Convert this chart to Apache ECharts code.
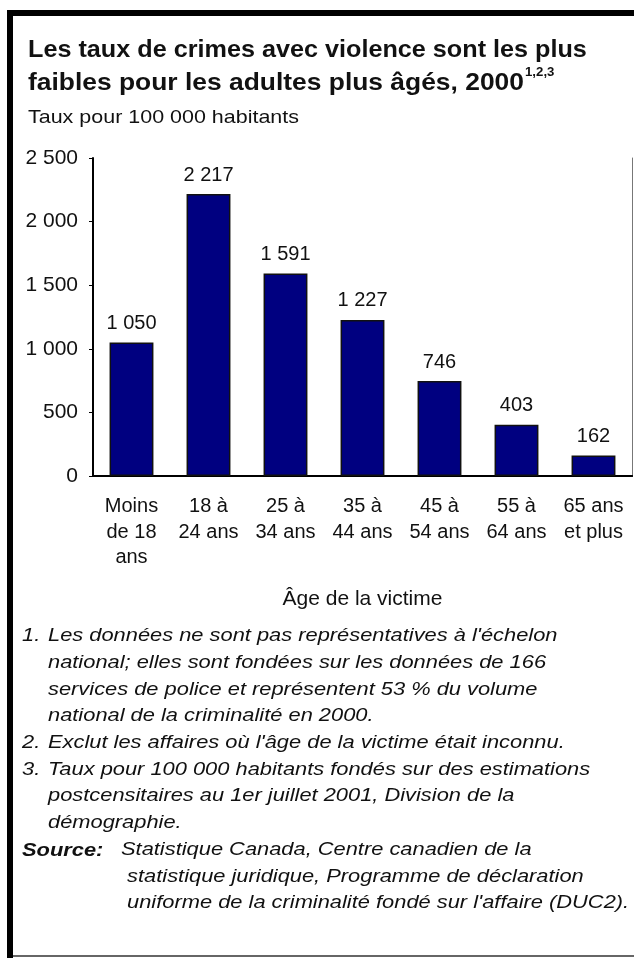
<!DOCTYPE html>
<html><head><meta charset="utf-8">
<script src="https://cdn.jsdelivr.net/npm/echarts@6/dist/echarts.min.js"></script>
<style>html,body{margin:0;padding:0;background:#fff}#c{width:634px;height:958px}</style>
</head><body><div id="c"></div>
<script>
const categories = ['Moins\nde 18\nans', '18 à\n24 ans', '25 à\n34 ans', '35 à\n44 ans', '45 à\n54 ans', '55 à\n64 ans', '65 ans\net plus'];
const rates = [1050, 2217, 1591, 1227, 746, 403, 162];
const yTicks = [0, 500, 1000, 1500, 2000, 2500];
const titleLines = ['Les taux de crimes avec violence sont les plus', 'faibles pour les adultes plus âgés, 2000'];
const titleSup = '1,2,3';
const subtitle = 'Taux pour 100 000 habitants';
const xName = 'Âge de la victime';
const notes = [
  ['1.', "Les données ne sont pas représentatives à l'échelon\nnational; elles sont fondées sur les données de 166\nservices de police et représentent 53 % du volume\nnational de la criminalité en 2000."],
  ['2.', "Exclut les affaires où l'âge de la victime était inconnu."],
  ['3.', "Taux pour 100 000 habitants fondés sur des estimations\npostcensitaires au 1er juillet 2001, Division de la\ndémographie."]
];
const sourceLabel = 'Source:';
const sourceText = "Statistique Canada, Centre canadien de la\n statistique juridique, Programme de déclaration\n uniforme de la criminalité fondé sur l'affaire (DUC2).";

const fmt = v => String(v).replace(/\B(?=(\d{3})+(?!\d))/g, ' ');
const FONT = 'Liberation Sans, Arial, sans-serif';
const INK = '#111';

const chart = echarts.init(document.getElementById('c'), null, {renderer: 'canvas'});

// footnotes
const lh = 26.7;
const SX = 1.15;
const noteGraphics = [];
let y = 636 - lh / 2;
notes.forEach(([n, t]) => {
  const lines = t.split('\n').length;
  noteGraphics.push({type: 'text', x: 22, y: y, scaleX: SX, style: {text: n, font: 'italic 19px ' + FONT, fill: INK, lineHeight: lh, verticalAlign: 'top', align: 'left'}});
  noteGraphics.push({type: 'text', x: 48, y: y, scaleX: SX, style: {text: t, font: 'italic 19px ' + FONT, fill: INK, lineHeight: lh, verticalAlign: 'top', align: 'left'}});
  y += lines * lh;
});
noteGraphics.push({type: 'text', x: 22, y: y + 1, scaleX: SX, style: {text: sourceLabel, font: 'italic bold 19px ' + FONT, fill: INK, lineHeight: lh, verticalAlign: 'top', align: 'left'}});
noteGraphics.push({type: 'text', x: 121, y: y, scaleX: SX, style: {text: sourceText, font: 'italic 19px ' + FONT, fill: INK, lineHeight: lh, verticalAlign: 'top', align: 'left'}});

const titleRich = {
  t: {fontSize: 24, fontWeight: 'bold', fill: INK, lineHeight: 33, fontFamily: FONT},
  s: {fontSize: 12, fontWeight: 'bold', fill: INK, lineHeight: 33, verticalAlign: 'top', padding: [0, 0, 12, 1], fontFamily: FONT}
};

chart.setOption({
  animation: false,
  backgroundColor: '#fff',
  textStyle: {fontFamily: FONT},
  grid: {left: 93, right: 2, top: 158, bottom: 482, containLabel: false},
  xAxis: [{
    type: 'category', data: categories, position: 'bottom',
    axisLine: {show: true, lineStyle: {color: '#000', width: 2}},
    axisTick: {show: false},
    axisLabel: {color: INK, fontSize: 20, lineHeight: 25.5, margin: 18, interval: 0, fontFamily: FONT},
    name: xName, nameLocation: 'middle', nameGap: 113,
    nameTextStyle: {color: INK, fontSize: 21, fontFamily: FONT}
  }, {
    type: 'category', data: categories, position: 'top',
    axisLine: {show: true, lineStyle: {color: '#000', width: 2}},
    axisTick: {show: false}, axisLabel: {show: false}
  }],
  yAxis: [{
    type: 'value', min: 0, max: 2500, interval: 500, position: 'left',
    axisLine: {show: true, lineStyle: {color: '#000', width: 2}},
    axisTick: {show: true, inside: false, length: 4, lineStyle: {color: '#000', width: 1}},
    splitLine: {show: false},
    axisLabel: {color: INK, fontSize: 21, margin: 15, fontFamily: FONT,
      formatter: v => yTicks.includes(v) ? fmt(v) : ''}
  }, {
    type: 'value', min: 0, max: 2500, interval: 500, position: 'right',
    axisLine: {show: true, lineStyle: {color: '#777', width: 1}},
    axisTick: {show: false}, axisLabel: {show: false}, splitLine: {show: false}
  }],
  series: [{
    type: 'bar', data: rates, xAxisIndex: 0, yAxisIndex: 0,
    barWidth: '57%',
    itemStyle: {color: '#000080', borderColor: '#111', borderWidth: 1.5},
    label: {show: true, position: 'top', distance: 9, color: INK, fontSize: 20, fontFamily: FONT, formatter: p => fmt(p.value)}
  }],
  graphic: [
    {type: 'rect', shape: {x: 7, y: 10, width: 627, height: 6}, style: {fill: '#000'}, silent: true},
    {type: 'rect', shape: {x: 7, y: 10, width: 6, height: 948}, style: {fill: '#000'}, silent: true},
    {type: 'rect', shape: {x: 13, y: 955, width: 621, height: 2}, style: {fill: '#666'}, silent: true},
    {type: 'text', x: 28, y: 50 - 16, scaleX: 1.05, style: {
      text: '{t|' + titleLines[0] + '}', verticalAlign: 'top', align: 'left', rich: titleRich}},
    {type: 'text', x: 28, y: 83 - 16, scaleX: 1.1, style: {
      text: '{t|' + titleLines[1] + '}{s|' + titleSup + '}', verticalAlign: 'top', align: 'left', rich: titleRich}},
    {type: 'text', x: 28, y: 118 - 12, scaleX: 1.13, style: {text: subtitle, font: '19px ' + FONT, fill: INK, lineHeight: 24, verticalAlign: 'top', align: 'left'}},
    ...noteGraphics
  ]
});
</script></body></html>
